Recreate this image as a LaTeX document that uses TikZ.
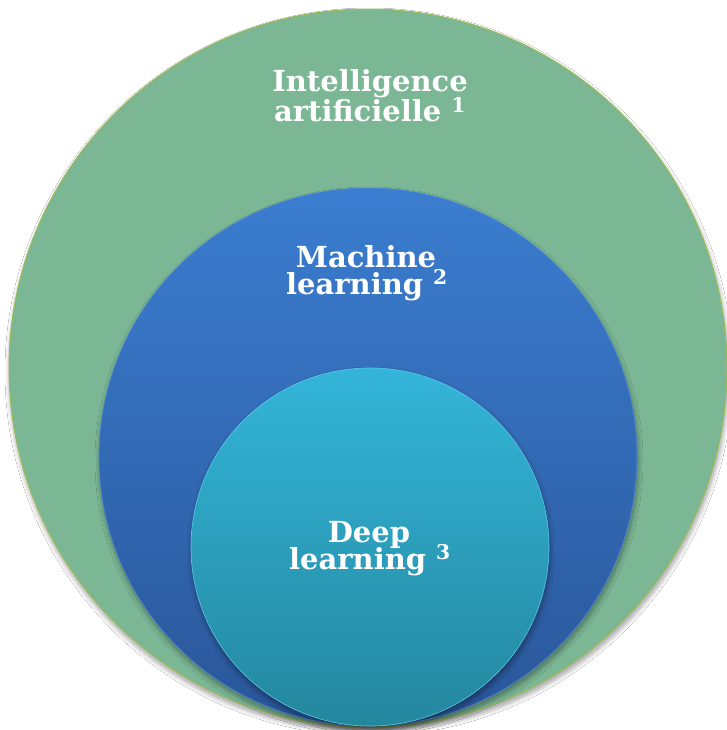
\documentclass[tikz,border=0pt]{standalone}
\usepackage{fontspec}
\setmainfont{DejaVu Serif}
\usetikzlibrary{shadows.blur}
\definecolor{aigreen}{HTML}{7BB795}
\definecolor{aiborder}{HTML}{9BBB59}
\definecolor{mltop}{HTML}{3B7DD0}
\definecolor{mlbot}{HTML}{2A5699}
\definecolor{mledge}{HTML}{4F8AD6}
\definecolor{dltop}{HTML}{33B5D9}
\definecolor{dlbot}{HTML}{24879E}
\definecolor{dledge}{HTML}{5CC8E6}
\tikzset{
  disc/.style={circle, inner sep=0pt, outer sep=0pt},
  soft/.style={blur shadow={shadow xshift=1pt, shadow yshift=-4pt, shadow blur radius=5pt, shadow blur steps=12, shadow opacity=40}},
  lbl/.style={anchor=base, text=white, font=\bfseries\fontsize{29}{32}\selectfont, inner sep=0pt}
}
\begin{document}
\begin{tikzpicture}[x=1pt,y=-1pt]
\useasboundingbox (0,0) rectangle (727,730);
\fill[white] (0,0) rectangle (727,730);
\node[disc, soft, minimum size=718pt, fill=aigreen, draw=aiborder, line width=1pt] (ai) at (368,368) {};
\node[disc, soft, minimum size=538pt, top color=mltop, bottom color=mlbot, draw=mledge, line width=0.6pt] (ml) at (368,457) {};
\node[disc, soft, minimum size=358pt, top color=dltop, bottom color=dlbot, draw=dledge, line width=0.6pt] (dl) at (370,547) {};
\node[lbl] (ai1) at (370,92) {Intelligence};
\node[lbl] (ai2) at (370,122) {artificielle \textsuperscript{1}};
\node[lbl] (ml1) at (366,267) {Machine};
\node[lbl] (ml2) at (367,294) {learning \textsuperscript{2}};
\node[lbl] (dl1) at (369,542) {Deep};
\node[lbl] (dl2) at (370,569) {learning \textsuperscript{3}};
\end{tikzpicture}
\end{document}
